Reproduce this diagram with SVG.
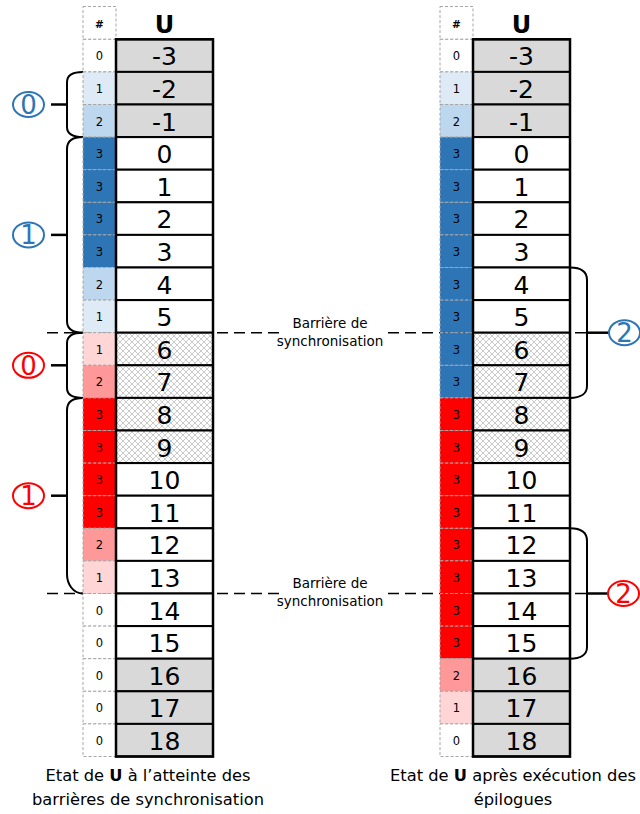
<svg xmlns="http://www.w3.org/2000/svg" width="640" height="814" viewBox="0 0 640 814">
<defs>
<pattern id="hatch" width="6" height="6" patternUnits="userSpaceOnUse">
<rect width="6" height="6" fill="#FFFFFF"/>
<path d="M0,0 L6,6 M6,0 L0,6" stroke="#A6A6A6" stroke-width="0.6"/>
</pattern>
</defs>
<style>
.ix{stroke:#A6A6A6;stroke-width:1;stroke-dasharray:3 2}
.u{stroke:#000;stroke-width:2}
.w{fill:#FFFFFF}.g{fill:#D9D9D9}.h{fill:url(#hatch)}
.b1{fill:#DEEBF7}.b2{fill:#BDD7EE}.b3{fill:#2E75B6}
.r1{fill:#FFD5D5}.r2{fill:#FF9999}.r3{fill:#FF0000}
text{font-family:"DejaVu Sans","Liberation Sans",sans-serif;fill:#000}
.sn{font-size:11.5px;text-anchor:middle}
.bn{font-size:25px;text-anchor:middle}
.hd{font-weight:bold;text-anchor:middle}
.bar{font-size:13.5px;text-anchor:middle}
.cap{font-size:16.3px;text-anchor:middle}
.dash{stroke:#000;stroke-width:1.5;stroke-dasharray:11 6;fill:none}
.br{stroke:#000;stroke-width:2;fill:none}
.tk{stroke:#000;stroke-width:2.5}
.cb{fill:none;stroke:#2E75B6;stroke-width:2}
.cr{fill:none;stroke:#FF0000;stroke-width:2}
.tb{fill:#2E75B6;font-size:26px;text-anchor:middle}
.tr{fill:#FF0000;font-size:26px;text-anchor:middle}
</style>
<rect width="640" height="814" fill="#FFFFFF"/>

<g id="connectors">
<path class="dash" d="M47,332.7 H280 M388,332.7 H588"/>
<path class="dash" d="M47,593.5 H280 M388,593.5 H588"/>
<path class="br" d="M83,71.9 C73,71.9 67,75 67,82 V127 C67,134 73,137.1 83,137.1"/>
<path class="tk" d="M51,104.5 H67"/>
<path class="br" d="M83,137.1 C73,137.1 67,141 67,149 V321 C67,329 73,332.7 83,332.7"/>
<path class="tk" d="M51,234.9 H67"/>
<path class="br" d="M83,332.7 C73,332.7 67,336 67,343 V388 C67,395 73,397.9 83,397.9"/>
<path class="tk" d="M51,365.3 H67"/>
<path class="br" d="M83,397.9 C73,397.9 67,402 67,410 V574 C67,584 73,593.5 83,593.5"/>
<path class="tk" d="M51,495.7 H67"/>
<path class="br" d="M570,267.5 C580,267.5 587,271 587,280 V386 C587,394 580,397.9 570,397.9"/>
<path class="tk" d="M587,332.7 H609"/>
<path class="br" d="M570,528.3 C580,528.3 587,532 587,541 V647 C587,655 580,658.7 570,658.7"/>
<path class="tk" d="M587,593.5 H609"/>
</g>

<g id="header-left">
<rect x="83" y="6.5" width="33" height="32.8" class="ix w"/>
<text x="99.5" y="27.5" class="hd" font-size="10.5">#</text>
<text x="164.5" y="33" class="hd" font-size="24">U</text>
</g>
<g id="header-right">
<rect x="440" y="6.5" width="33" height="32.8" class="ix w"/>
<text x="456.5" y="27.5" class="hd" font-size="10.5">#</text>
<text x="521.5" y="33" class="hd" font-size="24">U</text>
</g>

<g id="table-left">
<g id="L0"><rect x="83" y="39.3" width="33" height="32.6" class="ix w"/><rect x="116" y="39.3" width="97" height="32.6" class="u g"/><text x="99.5" y="60.3" class="sn">0</text><text x="164.5" y="65.3" class="bn">-3</text></g>
<g id="L1"><rect x="83" y="71.9" width="33" height="32.6" class="ix b1"/><rect x="116" y="71.9" width="97" height="32.6" class="u g"/><text x="99.5" y="92.9" class="sn">1</text><text x="164.5" y="97.9" class="bn">-2</text></g>
<g id="L2"><rect x="83" y="104.5" width="33" height="32.6" class="ix b2"/><rect x="116" y="104.5" width="97" height="32.6" class="u g"/><text x="99.5" y="125.5" class="sn">2</text><text x="164.5" y="130.5" class="bn">-1</text></g>
<g id="L3"><rect x="83" y="137.1" width="33" height="32.6" class="ix b3"/><rect x="116" y="137.1" width="97" height="32.6" class="u w"/><text x="99.5" y="158.1" class="sn">3</text><text x="164.5" y="163.1" class="bn">0</text></g>
<g id="L4"><rect x="83" y="169.7" width="33" height="32.6" class="ix b3"/><rect x="116" y="169.7" width="97" height="32.6" class="u w"/><text x="99.5" y="190.7" class="sn">3</text><text x="164.5" y="195.7" class="bn">1</text></g>
<g id="L5"><rect x="83" y="202.3" width="33" height="32.6" class="ix b3"/><rect x="116" y="202.3" width="97" height="32.6" class="u w"/><text x="99.5" y="223.3" class="sn">3</text><text x="164.5" y="228.3" class="bn">2</text></g>
<g id="L6"><rect x="83" y="234.9" width="33" height="32.6" class="ix b3"/><rect x="116" y="234.9" width="97" height="32.6" class="u w"/><text x="99.5" y="255.9" class="sn">3</text><text x="164.5" y="260.9" class="bn">3</text></g>
<g id="L7"><rect x="83" y="267.5" width="33" height="32.6" class="ix b2"/><rect x="116" y="267.5" width="97" height="32.6" class="u w"/><text x="99.5" y="288.5" class="sn">2</text><text x="164.5" y="293.5" class="bn">4</text></g>
<g id="L8"><rect x="83" y="300.1" width="33" height="32.6" class="ix b1"/><rect x="116" y="300.1" width="97" height="32.6" class="u w"/><text x="99.5" y="321.1" class="sn">1</text><text x="164.5" y="326.1" class="bn">5</text></g>
<g id="L9"><rect x="83" y="332.7" width="33" height="32.6" class="ix r1"/><rect x="116" y="332.7" width="97" height="32.6" class="u h"/><text x="99.5" y="353.7" class="sn">1</text><text x="164.5" y="358.7" class="bn">6</text></g>
<g id="L10"><rect x="83" y="365.3" width="33" height="32.6" class="ix r2"/><rect x="116" y="365.3" width="97" height="32.6" class="u h"/><text x="99.5" y="386.3" class="sn">2</text><text x="164.5" y="391.3" class="bn">7</text></g>
<g id="L11"><rect x="83" y="397.9" width="33" height="32.6" class="ix r3"/><rect x="116" y="397.9" width="97" height="32.6" class="u h"/><text x="99.5" y="418.9" class="sn">3</text><text x="164.5" y="423.9" class="bn">8</text></g>
<g id="L12"><rect x="83" y="430.5" width="33" height="32.6" class="ix r3"/><rect x="116" y="430.5" width="97" height="32.6" class="u h"/><text x="99.5" y="451.5" class="sn">3</text><text x="164.5" y="456.5" class="bn">9</text></g>
<g id="L13"><rect x="83" y="463.1" width="33" height="32.6" class="ix r3"/><rect x="116" y="463.1" width="97" height="32.6" class="u w"/><text x="99.5" y="484.1" class="sn">3</text><text x="164.5" y="489.1" class="bn">10</text></g>
<g id="L14"><rect x="83" y="495.7" width="33" height="32.6" class="ix r3"/><rect x="116" y="495.7" width="97" height="32.6" class="u w"/><text x="99.5" y="516.7" class="sn">3</text><text x="164.5" y="521.7" class="bn">11</text></g>
<g id="L15"><rect x="83" y="528.3" width="33" height="32.6" class="ix r2"/><rect x="116" y="528.3" width="97" height="32.6" class="u w"/><text x="99.5" y="549.3" class="sn">2</text><text x="164.5" y="554.3" class="bn">12</text></g>
<g id="L16"><rect x="83" y="560.9" width="33" height="32.6" class="ix r1"/><rect x="116" y="560.9" width="97" height="32.6" class="u w"/><text x="99.5" y="581.9" class="sn">1</text><text x="164.5" y="586.9" class="bn">13</text></g>
<g id="L17"><rect x="83" y="593.5" width="33" height="32.6" class="ix w"/><rect x="116" y="593.5" width="97" height="32.6" class="u w"/><text x="99.5" y="614.5" class="sn">0</text><text x="164.5" y="619.5" class="bn">14</text></g>
<g id="L18"><rect x="83" y="626.1" width="33" height="32.6" class="ix w"/><rect x="116" y="626.1" width="97" height="32.6" class="u w"/><text x="99.5" y="647.1" class="sn">0</text><text x="164.5" y="652.1" class="bn">15</text></g>
<g id="L19"><rect x="83" y="658.7" width="33" height="32.6" class="ix w"/><rect x="116" y="658.7" width="97" height="32.6" class="u g"/><text x="99.5" y="679.7" class="sn">0</text><text x="164.5" y="684.7" class="bn">16</text></g>
<g id="L20"><rect x="83" y="691.3" width="33" height="32.6" class="ix w"/><rect x="116" y="691.3" width="97" height="32.6" class="u g"/><text x="99.5" y="712.3" class="sn">0</text><text x="164.5" y="717.3" class="bn">17</text></g>
<g id="L21"><rect x="83" y="723.9" width="33" height="32.6" class="ix w"/><rect x="116" y="723.9" width="97" height="32.6" class="u g"/><text x="99.5" y="744.9" class="sn">0</text><text x="164.5" y="749.9" class="bn">18</text></g>
<rect x="116" y="39.3" width="97" height="717.2" fill="none" stroke="#000" stroke-width="2.5"/>
</g>

<g id="table-right">
<g id="R0"><rect x="440" y="39.3" width="33" height="32.6" class="ix w"/><rect x="473" y="39.3" width="97" height="32.6" class="u g"/><text x="456.5" y="60.3" class="sn">0</text><text x="521.5" y="65.3" class="bn">-3</text></g>
<g id="R1"><rect x="440" y="71.9" width="33" height="32.6" class="ix b1"/><rect x="473" y="71.9" width="97" height="32.6" class="u g"/><text x="456.5" y="92.9" class="sn">1</text><text x="521.5" y="97.9" class="bn">-2</text></g>
<g id="R2"><rect x="440" y="104.5" width="33" height="32.6" class="ix b2"/><rect x="473" y="104.5" width="97" height="32.6" class="u g"/><text x="456.5" y="125.5" class="sn">2</text><text x="521.5" y="130.5" class="bn">-1</text></g>
<g id="R3"><rect x="440" y="137.1" width="33" height="32.6" class="ix b3"/><rect x="473" y="137.1" width="97" height="32.6" class="u w"/><text x="456.5" y="158.1" class="sn">3</text><text x="521.5" y="163.1" class="bn">0</text></g>
<g id="R4"><rect x="440" y="169.7" width="33" height="32.6" class="ix b3"/><rect x="473" y="169.7" width="97" height="32.6" class="u w"/><text x="456.5" y="190.7" class="sn">3</text><text x="521.5" y="195.7" class="bn">1</text></g>
<g id="R5"><rect x="440" y="202.3" width="33" height="32.6" class="ix b3"/><rect x="473" y="202.3" width="97" height="32.6" class="u w"/><text x="456.5" y="223.3" class="sn">3</text><text x="521.5" y="228.3" class="bn">2</text></g>
<g id="R6"><rect x="440" y="234.9" width="33" height="32.6" class="ix b3"/><rect x="473" y="234.9" width="97" height="32.6" class="u w"/><text x="456.5" y="255.9" class="sn">3</text><text x="521.5" y="260.9" class="bn">3</text></g>
<g id="R7"><rect x="440" y="267.5" width="33" height="32.6" class="ix b3"/><rect x="473" y="267.5" width="97" height="32.6" class="u w"/><text x="456.5" y="288.5" class="sn">3</text><text x="521.5" y="293.5" class="bn">4</text></g>
<g id="R8"><rect x="440" y="300.1" width="33" height="32.6" class="ix b3"/><rect x="473" y="300.1" width="97" height="32.6" class="u w"/><text x="456.5" y="321.1" class="sn">3</text><text x="521.5" y="326.1" class="bn">5</text></g>
<g id="R9"><rect x="440" y="332.7" width="33" height="32.6" class="ix b3"/><rect x="473" y="332.7" width="97" height="32.6" class="u h"/><text x="456.5" y="353.7" class="sn">3</text><text x="521.5" y="358.7" class="bn">6</text></g>
<g id="R10"><rect x="440" y="365.3" width="33" height="32.6" class="ix b3"/><rect x="473" y="365.3" width="97" height="32.6" class="u h"/><text x="456.5" y="386.3" class="sn">3</text><text x="521.5" y="391.3" class="bn">7</text></g>
<g id="R11"><rect x="440" y="397.9" width="33" height="32.6" class="ix r3"/><rect x="473" y="397.9" width="97" height="32.6" class="u h"/><text x="456.5" y="418.9" class="sn">3</text><text x="521.5" y="423.9" class="bn">8</text></g>
<g id="R12"><rect x="440" y="430.5" width="33" height="32.6" class="ix r3"/><rect x="473" y="430.5" width="97" height="32.6" class="u h"/><text x="456.5" y="451.5" class="sn">3</text><text x="521.5" y="456.5" class="bn">9</text></g>
<g id="R13"><rect x="440" y="463.1" width="33" height="32.6" class="ix r3"/><rect x="473" y="463.1" width="97" height="32.6" class="u w"/><text x="456.5" y="484.1" class="sn">3</text><text x="521.5" y="489.1" class="bn">10</text></g>
<g id="R14"><rect x="440" y="495.7" width="33" height="32.6" class="ix r3"/><rect x="473" y="495.7" width="97" height="32.6" class="u w"/><text x="456.5" y="516.7" class="sn">3</text><text x="521.5" y="521.7" class="bn">11</text></g>
<g id="R15"><rect x="440" y="528.3" width="33" height="32.6" class="ix r3"/><rect x="473" y="528.3" width="97" height="32.6" class="u w"/><text x="456.5" y="549.3" class="sn">3</text><text x="521.5" y="554.3" class="bn">12</text></g>
<g id="R16"><rect x="440" y="560.9" width="33" height="32.6" class="ix r3"/><rect x="473" y="560.9" width="97" height="32.6" class="u w"/><text x="456.5" y="581.9" class="sn">3</text><text x="521.5" y="586.9" class="bn">13</text></g>
<g id="R17"><rect x="440" y="593.5" width="33" height="32.6" class="ix r3"/><rect x="473" y="593.5" width="97" height="32.6" class="u w"/><text x="456.5" y="614.5" class="sn">3</text><text x="521.5" y="619.5" class="bn">14</text></g>
<g id="R18"><rect x="440" y="626.1" width="33" height="32.6" class="ix r3"/><rect x="473" y="626.1" width="97" height="32.6" class="u w"/><text x="456.5" y="647.1" class="sn">3</text><text x="521.5" y="652.1" class="bn">15</text></g>
<g id="R19"><rect x="440" y="658.7" width="33" height="32.6" class="ix r2"/><rect x="473" y="658.7" width="97" height="32.6" class="u g"/><text x="456.5" y="679.7" class="sn">2</text><text x="521.5" y="684.7" class="bn">16</text></g>
<g id="R20"><rect x="440" y="691.3" width="33" height="32.6" class="ix r1"/><rect x="473" y="691.3" width="97" height="32.6" class="u g"/><text x="456.5" y="712.3" class="sn">1</text><text x="521.5" y="717.3" class="bn">17</text></g>
<g id="R21"><rect x="440" y="723.9" width="33" height="32.6" class="ix w"/><rect x="473" y="723.9" width="97" height="32.6" class="u g"/><text x="456.5" y="744.9" class="sn">0</text><text x="521.5" y="749.9" class="bn">18</text></g>
<rect x="473" y="39.3" width="97" height="717.2" fill="none" stroke="#000" stroke-width="2.5"/>
</g>

<g id="circle-blue-0"><ellipse cx="28.5" cy="104.5" rx="15.5" ry="12.5" class="cb"/><text x="28.5" y="114" class="tb">0</text></g>
<g id="circle-blue-1"><ellipse cx="28.5" cy="234.9" rx="15.5" ry="12.5" class="cb"/><text x="28.5" y="244.4" class="tb">1</text></g>
<g id="circle-red-0"><ellipse cx="28.5" cy="365.3" rx="15.5" ry="12.5" class="cr"/><text x="28.5" y="374.8" class="tr">0</text></g>
<g id="circle-red-1"><ellipse cx="28.5" cy="495.7" rx="15.5" ry="12.5" class="cr"/><text x="28.5" y="505.2" class="tr">1</text></g>
<g id="circle-blue-2"><ellipse cx="624.5" cy="332.7" rx="15.5" ry="12.5" class="cb"/><text x="624.5" y="342.2" class="tb">2</text></g>
<g id="circle-red-2"><ellipse cx="623.5" cy="593.5" rx="15.5" ry="12.5" class="cr"/><text x="623.5" y="603" class="tr">2</text></g>

<g id="barrier-label-1"><text x="330" y="328" class="bar">Barrière de</text><text x="330" y="346" class="bar">synchronisation</text></g>
<g id="barrier-label-2"><text x="330" y="588" class="bar">Barrière de</text><text x="330" y="606" class="bar">synchronisation</text></g>

<g id="caption-left"><text x="148" y="781" class="cap">Etat de <tspan font-weight="bold">U</tspan> à l’atteinte des</text><text x="148" y="805" class="cap">barrières de synchronisation</text></g>
<g id="caption-right"><text x="513" y="781" class="cap">Etat de <tspan font-weight="bold">U</tspan> après exécution des</text><text x="513" y="805" class="cap">épilogues</text></g>
</svg>
